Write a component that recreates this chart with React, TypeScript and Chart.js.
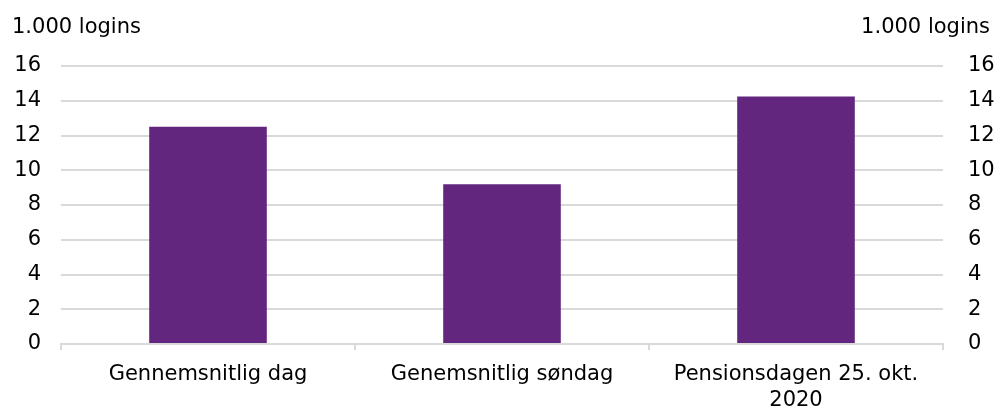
import React, { useEffect, useRef } from "react";
import { Chart, registerables } from "chart.js";

Chart.register(...registerables);

const categories: (string | string[])[] = [
  "Gennemsnitlig dag",
  "Genemsnitlig søndag",
  ["Pensionsdagen 25. okt.", "2020"],
];
const logins: number[] = [12.5, 9.2, 14.25];
const unitLabel = "1.000 logins";
const yMin = 0;
const yMax = 16;
const yStep = 2;

const FONT = "'DejaVu Sans', Verdana, sans-serif";
const FONT_SIZE = 21;
const BAR_COLOR = "#62267E";
const GRID_COLOR = "#d9d9d9";
const TEXT_COLOR = "#000000";

const unitPlugin = {
  id: "unitLabels",
  afterDraw(chart: any) {
    const ctx = chart.ctx;
    ctx.save();
    ctx.font = `${FONT_SIZE}px ${FONT}`;
    ctx.fillStyle = TEXT_COLOR;
    ctx.textBaseline = "alphabetic";
    ctx.textAlign = "left";
    ctx.fillText(unitLabel, 12, 33);
    ctx.textAlign = "right";
    ctx.fillText(unitLabel, 990, 33);
    ctx.restore();
  },
};

export default function App() {
  const ref = useRef<HTMLCanvasElement | null>(null);
  useEffect(() => {
    document.body.style.margin = "0";
    const canvas = ref.current;
    if (!canvas) return;
    const chart = new Chart(canvas, {
      type: "bar",
      data: {
        labels: categories as any,
        datasets: [
          {
            data: logins,
            backgroundColor: BAR_COLOR,
            borderWidth: 0,
            barPercentage: 0.4,
            categoryPercentage: 1,
            yAxisID: "y",
          },
        ],
      },
      options: {
        animation: false,
        responsive: false,
        maintainAspectRatio: false,
        layout: { padding: { top: 66, bottom: 0, left: 0, right: 0 } },
        plugins: {
          legend: { display: false },
          tooltip: { enabled: false },
          title: { display: false },
        },
        scales: {
          x: {
            offset: true,
            grid: {
              offset: true,
              drawOnChartArea: false,
              drawTicks: true,
              tickLength: 6,
              color: GRID_COLOR,
              lineWidth: 2,
            },
            border: { display: true, color: GRID_COLOR, width: 2 },
            ticks: {
              color: TEXT_COLOR,
              font: { family: FONT, size: FONT_SIZE, lineHeight: 1.25 },
              padding: 11,
              maxRotation: 0,
              autoSkip: false,
            },
            afterFit: (scale: any) => {
              scale.height = 66;
            },
          },
          y: {
            position: "left",
            min: yMin,
            max: yMax,
            grid: {
              drawTicks: false,
              color: GRID_COLOR,
              lineWidth: 2,
            },
            border: { display: false },
            ticks: {
              stepSize: yStep,
              color: TEXT_COLOR,
              font: { family: FONT, size: FONT_SIZE },
              padding: 20,
            },
            afterFit: (scale: any) => {
              scale.width = 61;
            },
          },
          y2: {
            position: "right",
            min: yMin,
            max: yMax,
            grid: { display: false, drawTicks: false },
            border: { display: false },
            ticks: {
              stepSize: yStep,
              color: TEXT_COLOR,
              font: { family: FONT, size: FONT_SIZE },
              padding: 25,
            },
            afterFit: (scale: any) => {
              scale.width = 54;
            },
          },
        },
      },
      plugins: [unitPlugin],
    });
    return () => chart.destroy();
  }, []);
  return (
    <div style={{ width: 997, height: 410, background: "#fff" }}>
      <canvas ref={ref} width={997} height={410} style={{ display: "block" }} />
    </div>
  );
}
